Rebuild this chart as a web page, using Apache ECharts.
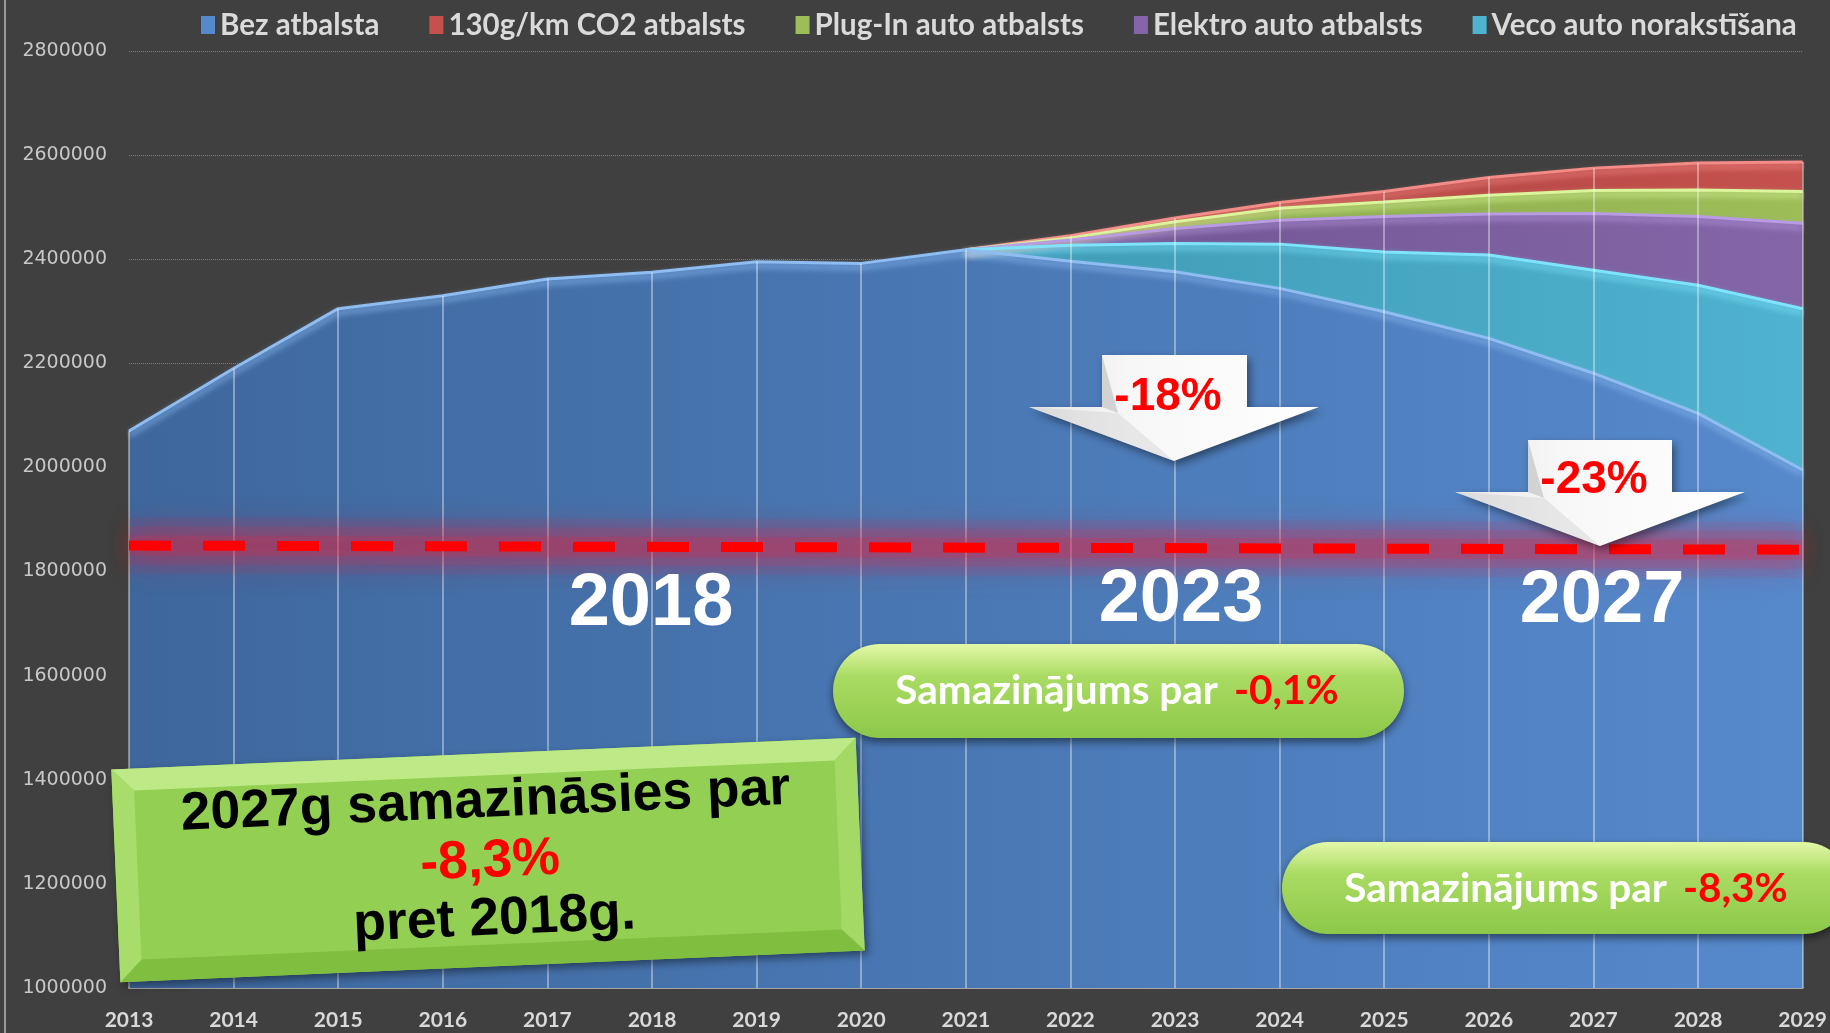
<!DOCTYPE html>
<html>
<head>
<meta charset="utf-8">
<script src="https://cdn.jsdelivr.net/npm/echarts@6/dist/echarts.min.js"></script>
<style>
  html, body { margin: 0; padding: 0; background: #404040; }
  #chart { width: 1830px; height: 1033px; }
</style>
</head>
<body>
<div id="chart"></div>
<script>
// data
const years = ['2013', '2014', '2015', '2016', '2017', '2018', '2019', '2020', '2021',
  '2022', '2023', '2024', '2025', '2026', '2027', '2028', '2029']
const bezAtbalsta = [2070000, 2190000, 2305000, 2330000, 2362000, 2375000, 2395000, 2392000, 2418000,
  2396000, 2376000, 2344000, 2299000, 2248000, 2181000, 2104000, 1995000]
const vecoAuto = [null, null, null, null, null, null, null, null, 2418000,
  2427000, 2430000, 2429000, 2414000, 2408000, 2379000, 2350000, 2305000]
const elektroAuto = [null, null, null, null, null, null, null, null, 2418000,
  2437000, 2459000, 2475000, 2482000, 2487000, 2488000, 2482000, 2469000]
const plugInAuto = [null, null, null, null, null, null, null, null, 2418000,
  2441000, 2472000, 2498000, 2510000, 2523000, 2532000, 2533000, 2530000]
const co2Atbalsts = [null, null, null, null, null, null, null, null, 2418000,
  2445000, 2479000, 2509000, 2530000, 2557000, 2575000, 2585000, 2587000]
const seriesNames = ['Bez atbalsta', '130g/km CO2 atbalsts', 'Plug-In auto atbalsts',
  'Elektro auto atbalsts', 'Veco auto norakstīšana']
const targetLevel = [1850000, 1842000]
const yMin = 1000000
const yMax = 2800000

const chart = echarts.init(document.getElementById('chart'))

function areaSeries(name, data, body, dark, light, z) {
  return {
    name: name,
    type: 'line',
    data: data,
    z: z,
    symbol: 'none',
    showSymbol: false,
    itemStyle: { color: body },
    lineStyle: {
      color: light,
      width: 3,
      shadowColor: light,
      shadowBlur: 6,
      shadowOffsetY: 4
    },
    areaStyle: {
      opacity: 1,
      color: new echarts.graphic.LinearGradient(0, 0, 1, 0, [
        { offset: 0, color: dark },
        { offset: 1, color: body }
      ])
    }
  }
}

const topValues = years.map((y, i) => Math.max(
  ...[bezAtbalsta, vecoAuto, elektroAuto, plugInAuto, co2Atbalsts].map(s => s[i] || 0)))

const red = areaSeries(seriesNames[1], co2Atbalsts, '#c4514e', '#a8403e', '#f38c88', 2)
const green = areaSeries(seriesNames[2], plugInAuto, '#9cbd58', '#86a646', '#dbf59c', 2)
const purple = areaSeries(seriesNames[3], elektroAuto, '#8466a8', '#6f5390', '#b99be2', 2)
const cyan = areaSeries(seriesNames[4], vecoAuto, '#4fb2cf', '#3f9bb5', '#7fe4fb', 2)
const blue = areaSeries(seriesNames[0], bezAtbalsta, '#5689cc', '#3e679d', '#8fbdf2', 2)

const targetSegment = [[{ coord: [years[0], targetLevel[0]] }, { coord: [years[years.length - 1], targetLevel[1]] }]]

// vertical drop lines at each year
blue.markLine = {
  silent: true,
  symbol: 'none',
  animation: false,
  label: { show: false },
  lineStyle: { color: 'rgba(255,255,255,0.5)', width: 1.5, type: 'solid' },
  data: years.map((y, i) => [{ coord: [y, topValues[i]] }, { coord: [y, yMin] }])
}

// soft red glow behind the target line, built from stacked blurred strokes
function glow(width, alpha, blur) {
  return {
    silent: true,
    symbol: 'none',
    z: 6,
    animation: false,
    label: { show: false },
    lineStyle: {
      color: 'rgba(225,40,70,' + alpha + ')', width: width, type: 'solid',
      shadowColor: 'rgba(255,20,40,0.9)', shadowBlur: blur
    },
    data: targetSegment
  }
}
red.markLine = glow(56, 0.08, 30)
cyan.markLine = glow(38, 0.12, 26)
purple.markLine = glow(20, 0.2, 22)

// red dashed target line
green.markLine = {
  silent: true,
  symbol: 'none',
  z: 7,
  animation: false,
  label: { show: false },
  lineStyle: { color: '#ff0000', width: 10, type: [42, 32], cap: 'butt' },
  data: targetSegment
}

function downArrow(sx1, sx2, top, mid, hx1, hx2, tipY) {
  const tipX = (hx1 + hx2) / 2
  return {
    type: 'polygon',
    z: 100,
    shape: {
      points: [[sx1, top], [sx2, top], [sx2, mid], [hx2, mid], [tipX, tipY], [hx1, mid], [sx1, mid]]
    },
    style: {
      fill: new echarts.graphic.LinearGradient(0, 0, 1, 0, [
        { offset: 0, color: '#e6e6e6' },
        { offset: 0.35, color: '#f7f7f7' },
        { offset: 1, color: '#ffffff' }
      ]),
      shadowColor: 'rgba(0,0,0,0.45)',
      shadowBlur: 8,
      shadowOffsetX: 3,
      shadowOffsetY: 4
    }
  }
}

function arrowBevel(sx1, top, mid, hx1, tipX, tipY) {
  return [
    {
      type: 'polygon', z: 101,
      shape: { points: [[sx1, top], [sx1 + 16, mid + 6], [sx1, mid]] },
      style: { fill: 'rgba(170,170,170,0.45)' }
    },
    {
      type: 'polygon', z: 101,
      shape: { points: [[hx1, mid], [sx1 + 16, mid + 6], [tipX, tipY]] },
      style: { fill: 'rgba(200,200,200,0.35)' }
    }
  ]
}

function bigText(text, x, y, size, color) {
  return {
    type: 'text',
    z: 110,
    style: {
      text: text, x: x, y: y,
      fill: color,
      font: 'bold ' + size + 'px "Liberation Sans", Arial, sans-serif',
      align: 'center', verticalAlign: 'middle',
      shadowColor: 'rgba(0,0,0,0.55)', shadowBlur: 4, shadowOffsetX: 3, shadowOffsetY: 3
    }
  }
}

function pill(x, y, w, h) {
  return {
    type: 'rect',
    z: 100,
    shape: { x: x, y: y, width: w, height: h, r: h / 2 },
    style: {
      fill: new echarts.graphic.LinearGradient(0, 0, 0, 1, [
        { offset: 0, color: '#e3f8a8' },
        { offset: 0.35, color: '#a9db62' },
        { offset: 1, color: '#8dc84a' }
      ]),
      shadowColor: 'rgba(0,0,0,0.5)',
      shadowBlur: 8,
      shadowOffsetY: 4
    }
  }
}

function pillText(pct, x, y) {
  return {
    type: 'text',
    z: 110,
    style: {
      text: '{w|Samazinājums par}{g|}{r|' + pct + '}',
      x: x, y: y,
      align: 'center', verticalAlign: 'middle',
      rich: {
        w: { fill: '#ffffff', fontFamily: 'Lato', fontWeight: 'bold', fontSize: 40.5 },
        g: { width: 16 },
        r: { fill: '#ff0000', fontFamily: 'Lato', fontWeight: 'bold', fontSize: 40.5 }
      }
    }
  }
}

// tilted green note box
const bw = 745, bh = 213, bev = 22
const ox = bw / 2, oy = bh / 2, ix = ox - bev, iy = oy - bev
const noteFont = 'bold 53.5px "Liberation Sans", Arial, sans-serif'
const noteBox = {
  type: 'group',
  x: 488, y: 860,
  rotation: 2.45 * Math.PI / 180,
  z: 100,
  children: [
    {
      type: 'rect', z: 100,
      shape: { x: -ox, y: -oy, width: bw, height: bh },
      style: { fill: '#93cf53', shadowColor: 'rgba(0,0,0,0.45)', shadowBlur: 8, shadowOffsetX: 3, shadowOffsetY: 4 }
    },
    { type: 'polygon', z: 101, shape: { points: [[-ox, -oy], [ox, -oy], [ix, -iy], [-ix, -iy]] }, style: { fill: '#bdea86' } },
    { type: 'polygon', z: 101, shape: { points: [[ox, -oy], [ox, oy], [ix, iy], [ix, -iy]] }, style: { fill: '#a3d964' } },
    { type: 'polygon', z: 101, shape: { points: [[ox, oy], [-ox, oy], [-ix, iy], [ix, iy]] }, style: { fill: '#80be40' } },
    { type: 'polygon', z: 101, shape: { points: [[-ox, oy], [-ox, -oy], [-ix, -iy], [-ix, iy]] }, style: { fill: '#a8dd6b' } },
    {
      type: 'text', z: 110,
      style: { text: '2027g samazināsies par', x: 0, y: -58, fill: '#000', align: 'center', verticalAlign: 'middle',
        font: noteFont }
    },
    {
      type: 'text', z: 110,
      style: { text: '-8,3%', x: 2, y: 2, fill: '#ff0000', align: 'center', verticalAlign: 'middle',
        font: noteFont,
        shadowColor: 'rgba(0,0,0,0.35)', shadowBlur: 3, shadowOffsetX: 2, shadowOffsetY: 2 }
    },
    {
      type: 'text', z: 110,
      style: { text: 'pret 2018g.', x: 4, y: 60, fill: '#000', align: 'center', verticalAlign: 'middle',
        font: noteFont }
    }
  ]
}

chart.setOption({
  backgroundColor: '#404040',
  animation: false,
  grid: { left: 129, right: 20, top: 51, bottom: 45 },
  legend: {
    data: seriesNames,
    left: 196,
    top: 5,
    icon: 'rect',
    itemWidth: 14,
    itemHeight: 18,
    itemGap: 50,
    textStyle: { color: '#dadada', fontFamily: 'Lato', fontWeight: 'bold', fontSize: 29.5 }
  },
  xAxis: {
    type: 'category',
    data: years,
    boundaryGap: false,
    axisLine: { show: true, lineStyle: { color: '#a6a6a6', width: 2 } },
    axisTick: { show: false },
    splitLine: { show: false },
    axisLabel: { color: '#d9d9d9', fontFamily: 'Lato', fontWeight: 'bold', fontSize: 21, margin: 22 }
  },
  yAxis: {
    type: 'value',
    min: yMin,
    max: yMax,
    interval: 200000,
    axisLine: { show: false },
    axisTick: { show: false },
    axisLabel: {
      color: '#c8c8c8', fontFamily: 'DejaVu Sans', fontSize: 19, margin: 22,
      formatter: v => String(v)
    },
    splitLine: { lineStyle: { color: '#7c7c7c', type: 'dotted', width: 1 } }
  },
  series: [red, green, purple, cyan, blue],
  graphic: [
    { type: 'rect', z: 90, shape: { x: 4, y: 0, width: 2, height: 1033 }, style: { fill: '#9a9a9a' } },
    bigText('2018', 651, 605, 74, '#ffffff'),
    bigText('2023', 1181, 601, 74, '#ffffff'),
    bigText('2027', 1602, 602, 74, '#ffffff'),
    downArrow(1102, 1247, 355, 407, 1029, 1319, 461),
    ...arrowBevel(1102, 355, 407, 1029, 1174, 461),
    bigText('-18%', 1168, 397, 46, '#ff0000'),
    downArrow(1528, 1672, 440, 492, 1455, 1745, 546),
    ...arrowBevel(1528, 440, 492, 1455, 1600, 546),
    bigText('-23%', 1594, 480, 46, '#ff0000'),
    pill(833, 644, 571, 94),
    pillText('-0,1%', 1117, 691),
    pill(1282, 842, 568, 92),
    pillText('-8,3%', 1566, 889),
    noteBox
  ]
})

window.addEventListener('resize', () => chart.resize())
</script>
</body>
</html>
